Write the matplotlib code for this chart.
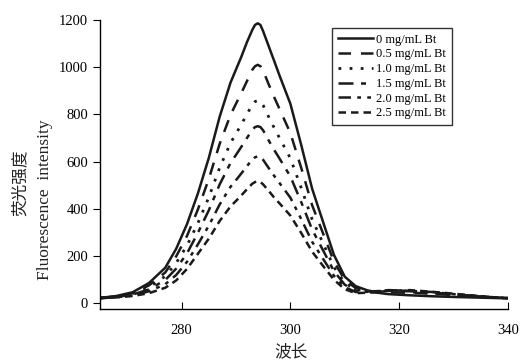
import matplotlib
matplotlib.use("Agg")
import matplotlib.pyplot as plt

plt.rcParams['font.family'] = ['Liberation Serif', 'Noto Sans CJK SC']

wavelength = [265, 268, 271, 274, 277, 279, 281, 283, 285, 287, 289, 290, 291, 292, 293,
              293.5, 294, 294.5, 295, 296, 297, 298, 300, 302, 304, 306, 308, 310, 312,
              315, 318, 322, 326, 330, 335, 340]

bt_0 = [22, 30, 46, 85, 150, 230, 335, 465, 615, 790, 935, 990, 1045, 1105, 1158,
        1179, 1186, 1179, 1152, 1090, 1028, 965, 845, 670, 485, 345, 205, 112, 72,
        47, 38, 33, 29, 26, 23, 20]
bt_05 = [22, 28, 42, 75, 130, 198, 285, 397, 526, 675, 798, 845, 891, 940, 989,
         1004, 1010, 1004, 985, 928, 874, 823, 721, 573, 415, 296, 177, 98, 64,
         48, 45, 44, 40, 34, 27, 21]
bt_10 = [21, 27, 39, 67, 114, 170, 244, 339, 448, 574, 679, 718, 758, 800, 841,
         854, 859, 854, 838, 790, 744, 700, 614, 488, 355, 254, 153, 86, 57,
         50, 48, 47, 42, 35, 27, 21]
bt_15 = [21, 26, 36, 58, 98, 146, 211, 298, 393, 503, 594, 628, 663, 699, 735,
         746, 750, 746, 732, 690, 650, 613, 537, 428, 312, 224, 136, 78, 53,
         50, 52, 50, 45, 37, 28, 21]
bt_20 = [21, 25, 32, 50, 80, 119, 175, 249, 328, 418, 493, 521, 550, 580, 609,
         618, 622, 618, 607, 573, 540, 509, 447, 356, 260, 188, 116, 68, 47,
         48, 55, 52, 47, 38, 28, 21]
bt_25 = [21, 24, 30, 42, 65, 96, 145, 209, 273, 348, 410, 433, 457, 482, 506,
         513, 516, 513, 503, 476, 448, 423, 371, 297, 218, 158, 99, 59, 42,
         45, 52, 55, 48, 40, 29, 21]

labels = ['0 mg/mL Bt', '0.5 mg/mL Bt', '1.0 mg/mL Bt', '1.5 mg/mL Bt',
          '2.0 mg/mL Bt', '2.5 mg/mL Bt']
series = [bt_0, bt_05, bt_10, bt_15, bt_20, bt_25]
styles = ['-', (0, (5, 4)), (0, (1, 3)), (0, (6, 3, 2, 3)),
          (0, (5, 2.5, 1.5, 2.5, 1.5, 2.5)), (0, (3, 2))]
widths = [1.8, 1.8, 2.0, 1.8, 1.8, 1.8]

fig = plt.figure(figsize=(5.22, 3.63), dpi=100)
ax = fig.add_axes([0.1916, 0.1488, 0.7814, 0.7961])

for y, lab, ls, lw in zip(series, labels, styles, widths):
    ax.plot(wavelength, y, color='#1a1a1a', linestyle=ls, linewidth=lw, label=lab)

ax.set_xlim(265, 340)
ax.set_ylim(-25, 1200)
ax.set_xticks([280, 300, 320, 340])
ax.set_yticks([0, 200, 400, 600, 800, 1000, 1200])
ax.spines['top'].set_visible(False)
ax.spines['right'].set_visible(False)
ax.spines['left'].set_linewidth(1.0)
ax.spines['bottom'].set_linewidth(1.0)
ax.tick_params(axis='x', direction='in', length=5, labelsize=10.5, pad=11)
ax.tick_params(axis='y', direction='out', length=5, labelsize=10.5)

leg = ax.legend(loc='upper left', bbox_to_anchor=(332/522, 1-28/363),
                bbox_transform=fig.transFigure, fontsize=9, frameon=True,
                fancybox=False, edgecolor='black', handlelength=2.8,
                labelspacing=0.22, borderpad=0.45, handletextpad=0.3,
                borderaxespad=0)
leg.get_frame().set_linewidth(1.0)

fig.text(20/522, 1-183/363, '荧光强度', rotation=90, ha='center', va='center',
         fontsize=12, family=['Noto Sans CJK SC'], color='#222222')
fig.text(45/522, 1-200/363, 'Fluorescence  intensity', rotation=90, ha='center',
         va='center', fontsize=12.5, color='#222222')
fig.text(291/522, 1-352/363, '波长', ha='center', va='center', fontsize=12,
         family=['Noto Sans CJK SC'], color='#222222')

fig.savefig('out.png', dpi=100)
